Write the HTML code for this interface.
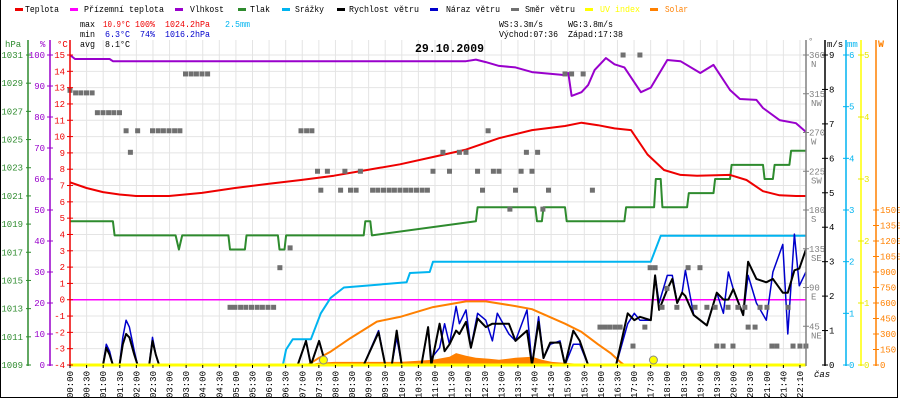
<!DOCTYPE html>
<html><head><meta charset="utf-8"><style>
html,body{margin:0;padding:0;background:#fff;}
svg{display:block;font-family:"Liberation Mono",monospace;}
</style></head><body>
<svg id="chart" width="900" height="400" viewBox="0 0 900 400" xmlns="http://www.w3.org/2000/svg">
<rect x="0" y="0" width="900" height="400" fill="#fff"/>
<g id="grid"></g>
<g id="series"></g>
<g id="axes"></g>
<g id="legend"></g>
<line x1="0.5" y1="0" x2="0.5" y2="398" stroke="#000"/>
<line x1="0" y1="397.5" x2="898" y2="397.5" stroke="#000"/>
<line x1="897.5" y1="0" x2="897.5" y2="398" stroke="#000"/>
</svg>
<script>
// ---- data ----
const tempTimes=[0,0.5,1,1.5,2,3,4,5,6,7,8,9,10,11,12,13,14,15,15.5,16,16.5,17,17.5,18,18.5,19,20,20.5,21,21.5,22,22.3];
const tempValues=[7.2,6.85,6.6,6.45,6.36,6.36,6.55,6.85,7.1,7.34,7.6,7.95,8.3,8.75,9.2,9.9,10.4,10.65,10.85,10.7,10.5,10.4,8.9,7.95,7.65,7.6,7.65,7.34,6.65,6.4,6.36,6.36];
const groundTimes=[0,22.3];
const groundValues=[0,0];
const humTimes=[0,0.15,1.2,1.3,12.0,12.3,12.6,13.0,13.5,14.0,14.5,15.0,15.1,15.2,15.5,15.7,15.9,16.24,16.5,16.8,17.3,17.6,18.1,18.5,19.1,19.5,20.0,20.3,20.8,21.0,21.5,22.0,22.3];
const humValues=[100,98.7,98.7,98,98,98.5,97.7,96.5,96,94.5,94,93.5,94.2,86.8,88,90.3,95.2,99,97,96,88,89.5,98.4,98,94.2,96.8,88.7,85.8,85.5,82.9,79,78,75.2];
const presTimes=[0,1.3,1.35,3.2,3.3,3.4,4.8,4.85,4.95,5.3,5.35,6.3,6.35,6.5,6.55,8.9,8.95,9.1,9.15,12.3,12.35,14.1,14.15,14.3,14.35,15.0,15.05,16.8,16.85,17.7,17.75,17.9,17.95,18.7,18.75,19.5,19.55,20.0,20.05,21.0,21.05,21.3,21.35,21.8,21.85,22.3];
const presValues=[1019.2,1019.2,1018.2,1018.2,1017.2,1018.2,1018.2,1017.2,1017.2,1017.2,1018.2,1018.2,1017.2,1017.2,1018.2,1018.2,1019.2,1019.2,1018.2,1019.2,1020.2,1020.2,1019.2,1019.2,1020.2,1020.2,1019.2,1019.2,1020.2,1020.2,1022.2,1022.2,1020.2,1020.2,1021.2,1021.2,1022.2,1022.2,1023.2,1023.2,1022.2,1022.2,1023.2,1023.2,1024.2,1024.2];
const rainTimes=[0,6.45,6.55,6.75,7.3,7.6,7.9,8.3,10.2,10.3,10.9,11.0,17.6,17.9,22.3];
const rainValues=[0,0,0.3,0.5,0.5,1.0,1.3,1.5,1.6,1.78,1.8,2.0,2.0,2.5,2.5];
const windTimes=[0,1.0,1.1,1.2,1.3,1.5,1.6,1.7,1.8,1.95,2.05,2.4,2.5,2.6,2.7,6.9,7.15,7.3,7.55,7.75,8.9,9.35,9.55,9.75,9.9,10.05,10.65,10.85,10.95,11.2,11.35,11.5,11.7,11.8,12.0,12.15,12.35,12.6,12.8,12.95,13.3,13.5,13.85,14.0,14.2,14.35,14.55,14.85,15.0,15.25,15.45,15.7,16.55,16.9,17.1,17.27,17.6,17.73,17.85,18.1,18.25,18.4,18.55,18.65,18.9,19.3,19.6,19.8,19.95,20.1,20.4,20.55,20.8,21.1,21.3,21.6,21.75,21.95,22.1,22.3];
const windSpeed=[0,0,0.5,0.3,0,0,0.6,0.9,0.8,0.3,0,0,0.7,0.3,0,0,0.7,0,0.7,0,0,0.95,0,0,1.0,0,0,1.1,0,1.2,0.4,0.6,1.0,0.9,1.25,0.5,1.35,1.1,1.2,1.2,1.2,0.7,1.0,0,1.25,0.2,0.65,0.65,0,1.0,0.7,0,0,1.5,1.3,1.4,1.3,2.6,1.6,2.2,2.5,1.8,2.1,2.0,1.45,1.15,2.1,1.9,1.9,2.2,1.45,3.0,2.5,2.4,2.5,2.1,2.1,2.75,2.8,3.35];
const windGust=[0,0,0.6,0.4,0,0,0.8,1.3,1.1,0.4,0,0,0.8,0.3,0,0,0.7,0,0.7,0,0,1.0,0,0,0.8,0,0,1.1,0.2,0.5,1.2,0.6,1.7,1.2,1.6,0.5,1.5,1.3,0.7,1.5,0.9,0.7,1.6,0,1.4,0.2,0.6,0.7,0,0.6,0.6,0,0,1.2,1.5,1.3,1.3,2.6,1.8,2.6,2.6,1.8,2.1,2.75,1.45,1.15,2.1,1.5,2.7,2.2,1.45,2.6,1.8,1.3,2.7,3.5,0.9,3.8,2.3,2.7];
const dirTimes=[
0,0.17,0.33,0.5,0.67, 0.83,1.0,1.17,1.33,1.5, 1.7,1.83,2.05, 2.5,2.67,2.83,3.0,3.17,3.33, 3.5,3.67,3.83,4.0,4.17, 4.85,5.0,5.17,5.33,5.5,5.67,5.83,6.0,6.17, 6.36,6.67, 7.0,7.17,7.33,
7.5,7.6,7.8,8.2,8.33,8.5,8.67,8.8, 9.17,9.33,9.5,9.67,9.83,10.0,10.17,10.33,10.5,10.67,10.83,
11.0,11.3,11.5,11.8,12.0,12.35,12.5,12.67,12.83,13.0,13.33,13.5,13.67,13.83,14.0,14.17,14.33,14.5, 15.0,15.2,15.55,15.83,
16.06,16.21,16.36,16.52,16.67, 16.76,17.27, 17.06,17.42, 17.58,17.73,18.73,19.09, 18.09,
17.94,18.39,18.94,19.3,19.55,19.94,20.24,20.45,20.91,21.12,21.76, 19.6,19.79,20.09,21.27,21.42,21.91,22.12,22.3, 20.55,20.76];
const dirDeg=[
319,316,316,316,316, 293,293,293,293,293, 272,247,272, 272,272,272,272,272,272, 338,338,338,338,338, 67,67,67,67,67,67,67,67,67, 113,136, 272,272,272,
225,203,225,203,225,203,203,225, 203,203,203,203,203,203,203,203,203,203,203,
225,247,225,247,247,225,203,272,225,225,181,203,225,247,225,247,181,203, 338,338,338,203,
44,44,44,44,44, 360,360, 22,44, 113,113,113,113, 89,
67,67,67,67,67,67,67,67,67,67,67, 22,22,22,22,22,22,22,22, 44,44];
const solarMaxTimes=[7.2,7.5,7.9,8.5,9.3,10,11,12,12.6,13.5,14,15,15.5,16,16.4,16.67,16.8];
const solarMaxValues=[0,60,130,260,420,465,560,615,615,570,540,400,320,200,110,30,0];
const solarTimes=[7.2,7.5,8,9,10,10.5,11,11.5,11.7,12,12.3,12.7,13,13.5,14,14.3,14.6,15,15.5,16,16.5];
const solarValues=[0,20,30,30,30,40,50,80,115,90,70,60,50,70,80,50,30,20,10,5,0];
const timeLabels=["00:00","00:30","01:00","01:30","02:00","02:30","03:00","03:30","04:00","04:30","05:00","05:30","06:00","06:30","07:00","07:30","08:00","08:30","09:00","09:30","10:00","10:30","11:00","11:30","12:00","12:30","13:00","13:30","14:00","14:30","15:00","15:30","16:00","16:30","17:00","17:30","18:00","18:30","19:00","19:30","20:00","20:30","21:00","21:40","22:10"];
const hpaTicks=[1009,1011,1013,1015,1017,1019,1021,1023,1025,1027,1029,1031];
const humTicks=[0,10,20,30,40,50,60,70,80,90,100];
const tempTicks=[-4,-3,-2,-1,0,1,2,3,4,5,6,7,8,9,10,11,12,13,14,15];
const dirTicks=[45,90,135,180,225,270,315,360];
const dirNames=["NE","E","SE","S","SW","W","NW","N"];
const msTicks=[0,1,2,3,4,5,6,7,8,9];
const mmTicks=[0,1,2,3,4,5,6];
const uvTicks=[0,1,2,3,4,5];
const wTicks=[0,150,300,450,600,750,900,1050,1200,1350,1500];

// ---- scales ----
const TOP=55,BOT=365,X0=70;
const xT=t=>X0+t*33;
const yC=v=>BOT-(v+4)*(BOT-TOP)/19;
const yH=v=>BOT-v*(BOT-TOP)/100;
const yP=v=>BOT-(v-1009)*(BOT-TOP)/22;
const yMS=v=>BOT-v*(BOT-TOP)/9;
const yMM=v=>BOT-v*(BOT-TOP)/6;
const yUV=v=>BOT-v*(BOT-TOP)/5;
const yW=v=>BOT-v*(BOT-TOP)/3000;
const yD=v=>BOT-v*(BOT-TOP)/360;
const NS="http://www.w3.org/2000/svg";
function mk(tag,attrs,parent){const e=document.createElementNS(NS,tag);for(const k in attrs)e.setAttribute(k,attrs[k]);parent.appendChild(e);return e;}
const grid=document.getElementById('grid'),ser=document.getElementById('series'),axes=document.getElementById('axes'),leg=document.getElementById('legend');

// grid
for(let i=0;i<=19;i++){const y=yC(-4+i);const l=mk('line',{x1:X0,x2:806,y1:y,y2:y,stroke:'#e4e4e4'},grid);

}
for(let i=1;i<timeLabels.length;i++){const x=X0+i*16.59;const l=mk('line',{x1:x,x2:x,y1:TOP-15,y2:BOT,stroke:'#e4e4e4'},grid);

}

function poly(times,vals,ys,color,w,name){
  const pts=times.map((t,i)=>xT(t).toFixed(1)+','+ys(vals[i]).toFixed(1)).join(' ');
  const p=mk('polyline',{points:pts,fill:'none',stroke:color,'stroke-width':w,'stroke-linejoin':'round'},ser);
  
  
  return p;
}
// solar fill
{const pts=solarTimes.map((t,i)=>xT(t).toFixed(1)+','+yW(solarValues[i]).toFixed(1));
pts.push(xT(solarTimes[solarTimes.length-1])+','+BOT);pts.unshift(xT(solarTimes[0])+','+BOT);
const p=mk('polygon',{points:pts.join(' '),fill:'#ff8000'},ser);

}
poly(groundTimes,groundValues,yC,'#ff00ff',1.5,'ground-temperature-line');
poly(solarMaxTimes,solarMaxValues,yW,'#ff8000',2,'solar-max-line');
poly(rainTimes,rainValues,yMM,'#00b4f0',2,'precipitation-line');
poly(presTimes,presValues,yP,'#2e8b2e',2,'pressure-line');
poly(humTimes,humValues,yH,'#9900cc',2,'humidity-line');
poly(tempTimes,tempValues,yC,'#ee0000',2,'temperature-line');
poly(windTimes,windGust,yMS,'#0000cc',1.5,'wind-gust-line');
poly(windTimes,windSpeed,yMS,'#000000',2,'wind-speed-line');
// UV line
{const l=mk('line',{x1:X0,x2:806,y1:BOT,y2:BOT,stroke:'#ffff00','stroke-width':3},ser);

}
// wind direction
dirTimes.forEach((t,i)=>{const r=mk('rect',{x:xT(t)-2.5,y:yD(dirDeg[i])-2.5,width:5,height:5,fill:'#707070'},ser);

});
// sunrise/sunset markers
[7.68,17.68].forEach(t=>{const c=mk('circle',{cx:xT(t),cy:360,r:4,fill:'#ffff00',stroke:'#888','stroke-width':1},ser);

});

// axes
function vline(x,color,name){const l=mk('line',{x1:x,x2:x,y1:40,y2:BOT+1,stroke:color,'stroke-width':1.5},axes);

}
vline(28,'#2e8b2e','pressure-axis');vline(50,'#9900cc','humidity-axis');vline(70,'#ee0000','temperature-axis');
vline(806,'#808080','direction-axis');vline(825,'#000','wind-axis');vline(846,'#00b4f0','rain-axis');vline(861,'#ffff00','uv-axis');vline(876,'#ff8000','solar-axis');
function txt(x,y,s,color,anchor,size,name,extra){const t=mk('text',Object.assign({x:x,y:y,fill:color,'font-size':size||9,'text-anchor':anchor||'start'},extra||{}),axes);t.textContent=s;

return t;}
function tick(x1,x2,y,color){mk('line',{x1:x1,x2:x2,y1:y,y2:y,stroke:color},axes);}
hpaTicks.forEach(v=>{tick(26,31,yP(v),'#2e8b2e');txt(23,yP(v)+3,String(v),'#2e8b2e','end',9,'pressure-tick-label');});
humTicks.forEach(v=>{tick(47,53,yH(v),'#9900cc');txt(45,yH(v)+3,String(v),'#9900cc','end',9,'humidity-tick-label');});
tempTicks.forEach(v=>{tick(67,73,yC(v),'#ee0000');txt(65,yC(v)+3,String(v),'#ee0000','end',9,'temperature-tick-label');});
dirTicks.forEach((v,i)=>{tick(803,809,yD(v),'#808080');txt(809,yD(v)+3,String(v),'#808080','start',9,'direction-tick-label');txt(811,yD(v)+12,dirNames[i],'#808080','start',9,'direction-name-label');});
msTicks.forEach(v=>{tick(822,828,yMS(v),'#000');txt(829,yMS(v)+3,String(v),'#000','start',9,'wind-tick-label');});
mmTicks.forEach(v=>{tick(843,849,yMM(v),'#00b4f0');txt(849,yMM(v)+3,String(v),'#00b4f0','start',9,'rain-tick-label');});
uvTicks.forEach(v=>{tick(858,864,yUV(v),'#e8e800');txt(864,yUV(v)+3,String(v),'#e8e800','start',9,'uv-tick-label');});
wTicks.forEach(v=>{tick(873,879,yW(v),'#ff8000');txt(880,yW(v)+3,String(v),'#ff8000','start',9,'solar-tick-label');});
timeLabels.forEach((s,i)=>{const x=X0+i*16.59;mk('line',{x1:x,x2:x,y1:BOT,y2:BOT+3,stroke:'#000'},axes);
txt(0,0,s,'#000','end',9,'time-tick-label',{transform:'translate('+(x+3)+','+(BOT+6)+') rotate(-90)'});});
txt(5,47,'hPa','#2e8b2e','start',9,'pressure-unit');
txt(40,47,'%','#9900cc','start',9,'humidity-unit');
txt(57,47,'°C','#ee0000','start',9,'temperature-unit');
txt(808,44,'°','#808080','start',9,'direction-unit');
txt(827,47,'m/s','#000','start',9,'wind-unit');
txt(847,47,'mm','#00b4f0','start',9,'rain-unit');
txt(878,47,'W','#ff8000','start',10,'solar-unit',{'font-weight':'bold'});
txt(814,377,'čas','#000','start',9,'time-axis-title',{'font-style':'italic'});
txt(415,52,'29.10.2009','#000','start',12,'chart-title',{'font-weight':'bold',textLength:69,lengthAdjust:'spacingAndGlyphs'});

// legend
const legItems=[["Teplota","#ee0000",15,25,34],["Přízemní teplota","#ff00ff",70,84,80],["Vlhkost","#9900cc",175,190,34],["Tlak","#2e8b2e",238,250,20],["Srážky","#00b4f0",282,295,29],["Rychlost větru","#000000",337,349,70],["Náraz větru","#0000cc",430,446,54],["Směr větru","#707070",511,525,50],["UV index","#ffff00",585,600,40],["Solar","#ff8000",650,665,23]];
legItems.forEach(it=>{const g=mk('g',{},leg);


mk('rect',{x:it[2],y:8,width:8,height:3,fill:it[1]},g);
const t=mk('text',{x:it[3],y:12,'font-size':9,fill:(it[1]=="#ffff00"?'#ffff00':(it[1]=="#ff8000"?'#ff8000':'#000')),textLength:it[4],lengthAdjust:'spacingAndGlyphs'},g);t.textContent=it[0];});
// stats
const stats=[[80,27,'max','#000',15],[103,27,'10.9°C','#ee0000',27],[135,27,'100%','#ee0000',20],[165,27,'1024.2hPa','#ee0000',45],[225,27,'2.5mm','#00b4f0',25],
[80,37,'min','#000',15],[105,37,'6.3°C','#0000cc',25],[140,37,'74%','#0000cc',15],[165,37,'1016.2hPa','#0000cc',45],
[80,47,'avg','#000',15],[105,47,'8.1°C','#000',25],
[499,27,'WS:3.3m/s','#000',44],[568,27,'WG:3.8m/s','#000',45],[499,37,'Východ:07:36','#000',59],[568,37,'Západ:17:38','#000',55]];
stats.forEach(s=>{const t=mk('text',{x:s[0],y:s[1],'font-size':9,fill:s[3],textLength:s[4],lengthAdjust:'spacingAndGlyphs'},leg);t.textContent=s[2];

});
</script>
</body></html>
